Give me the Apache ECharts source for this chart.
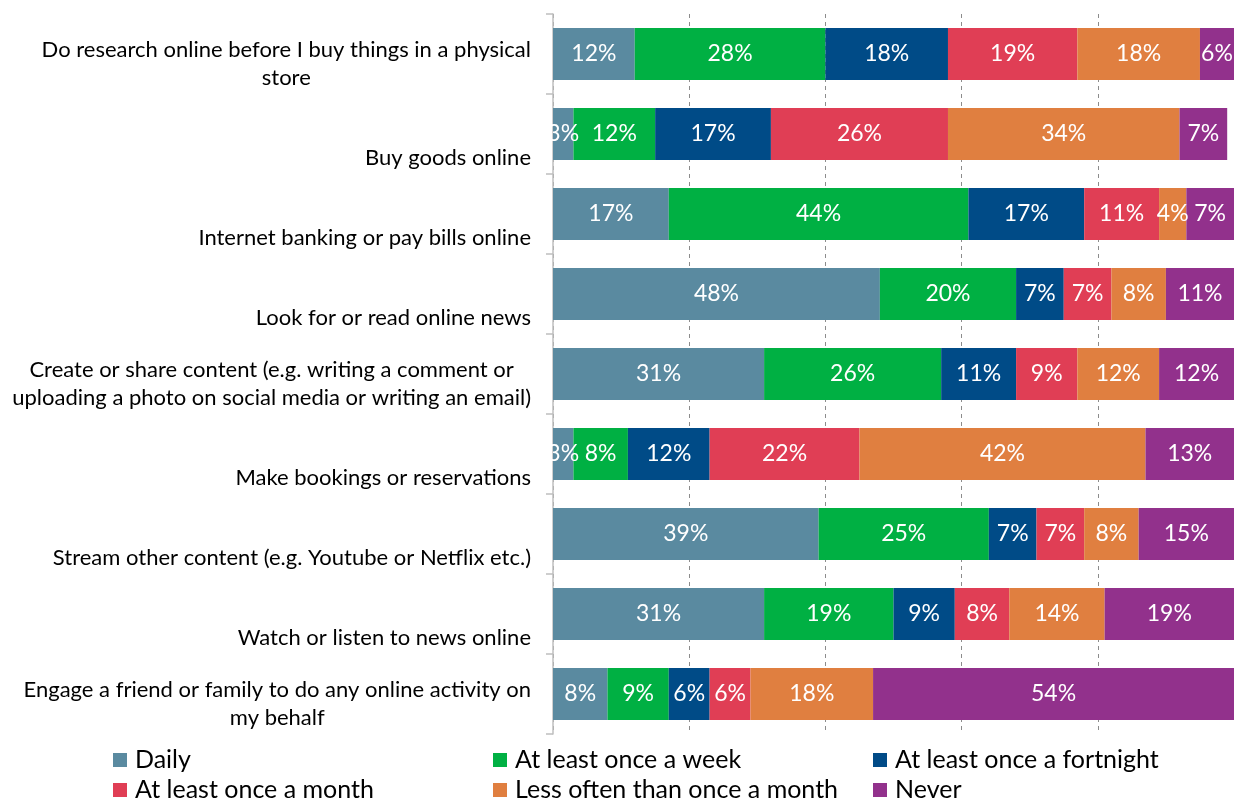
<!DOCTYPE html>
<html>
<head>
<meta charset="utf-8">
<title>Online activity frequency</title>
<script src="https://cdn.jsdelivr.net/npm/echarts@6/dist/echarts.min.js"></script>
<style>
  html, body { margin: 0; padding: 0; background: #fff; }
  #chart { width: 1234px; height: 801px; }
</style>
</head>
<body>
<div id="chart"></div>
<script>
// Activities (top to bottom); "\n" marks where a long label wraps
const categories = [
  'Do research online before I buy things in a physical\nstore',
  'Buy goods online',
  'Internet banking or pay bills online',
  'Look for or read online news',
  'Create or share content (e.g. writing a comment or\nuploading a photo on social media or writing an email)',
  'Make bookings or reservations',
  'Stream other content (e.g. Youtube or Netflix etc.)',
  'Watch or listen to news online',
  'Engage a friend or family to do any online activity on\nmy behalf'
];

// Frequency groups, in stacking order
const seriesNames = [
  'Daily',
  'At least once a week',
  'At least once a fortnight',
  'At least once a month',
  'Less often than once a month',
  'Never'
];

// Share of respondents (%) per activity
const daily       = [12, 3, 17, 48, 31, 3, 39, 31, 8];
const weekly      = [28, 12, 44, 20, 26, 8, 25, 19, 9];
const fortnightly = [18, 17, 17, 7, 11, 12, 7, 9, 6];
const monthly     = [19, 26, 11, 7, 9, 22, 7, 8, 6];
const lessOften   = [18, 34, 4, 8, 12, 42, 8, 14, 18];
const never       = [6, 7, 7, 11, 12, 13, 15, 19, 54];

const seriesValues = [daily, weekly, fortnightly, monthly, lessOften, never];
const colors = ['#5A8AA0', '#00B043', '#004B87', '#E03E55', '#E07F40', '#92318C'];

const FONT = 'Lato';

const chart = echarts.init(document.getElementById('chart'), null, { renderer: 'canvas' });

const series = seriesNames.map((name, i) => ({
  name,
  type: 'bar',
  stack: 'total',
  barWidth: 52,
  itemStyle: { color: colors[i] },
  label: {
    show: true,
    position: 'inside',
    color: '#fff',
    fontFamily: FONT,
    fontSize: 23,
    formatter: p => p.value + '%'
  },
  emphasis: { disabled: true },
  data: seriesValues[i]
}));

// Legend: three columns of two entries, one legend box per entry
const legendCols = [113, 493, 873];
const legendRows = [747, 777];
const legends = seriesNames.map((name, i) => ({
  data: [name],
  left: legendCols[i % 3],
  top: legendRows[Math.floor(i / 3)],
  padding: 0,
  itemWidth: 14,
  itemHeight: 14,
  icon: 'rect',
  selectedMode: false,
  textStyle: { fontFamily: FONT, fontSize: 25, lineHeight: 26, color: '#000', padding: [0, 0, 0, 3] }
}));

chart.setOption({
  animation: false,
  grid: { left: 553, right: 0, top: 14, height: 720, containLabel: false },
  legend: legends,
  xAxis: {
    type: 'value',
    min: 0,
    max: 100,
    interval: 20,
    axisLabel: { show: false },
    axisLine: { show: false },
    axisTick: { show: false },
    splitLine: { show: true, lineStyle: { color: '#8c8c8c', width: 1, type: [4, 4] } }
  },
  yAxis: {
    type: 'category',
    inverse: true,
    data: categories,
    axisLine: { show: true, lineStyle: { color: '#bfbfbf', width: 1.5 } },
    axisTick: { show: true, length: 7, lineStyle: { color: '#bfbfbf', width: 1.5 } },
    axisLabel: {
      interval: 0,
      margin: 22,
      color: '#000',
      fontFamily: FONT,
      fontSize: 22,
      lineHeight: 28,
      padding: [20, 0, 0, 0],
      formatter: value => {
        const lines = value.split('\n');
        if (lines.length === 1) lines.unshift(' ');
        return lines.map(l => '{c|' + l + '}').join('\n');
      },
      rich: {
        c: { align: 'center', fontFamily: FONT, fontSize: 22, lineHeight: 28, color: '#000' }
      }
    }
  },
  series
});
</script>
</body>
</html>
